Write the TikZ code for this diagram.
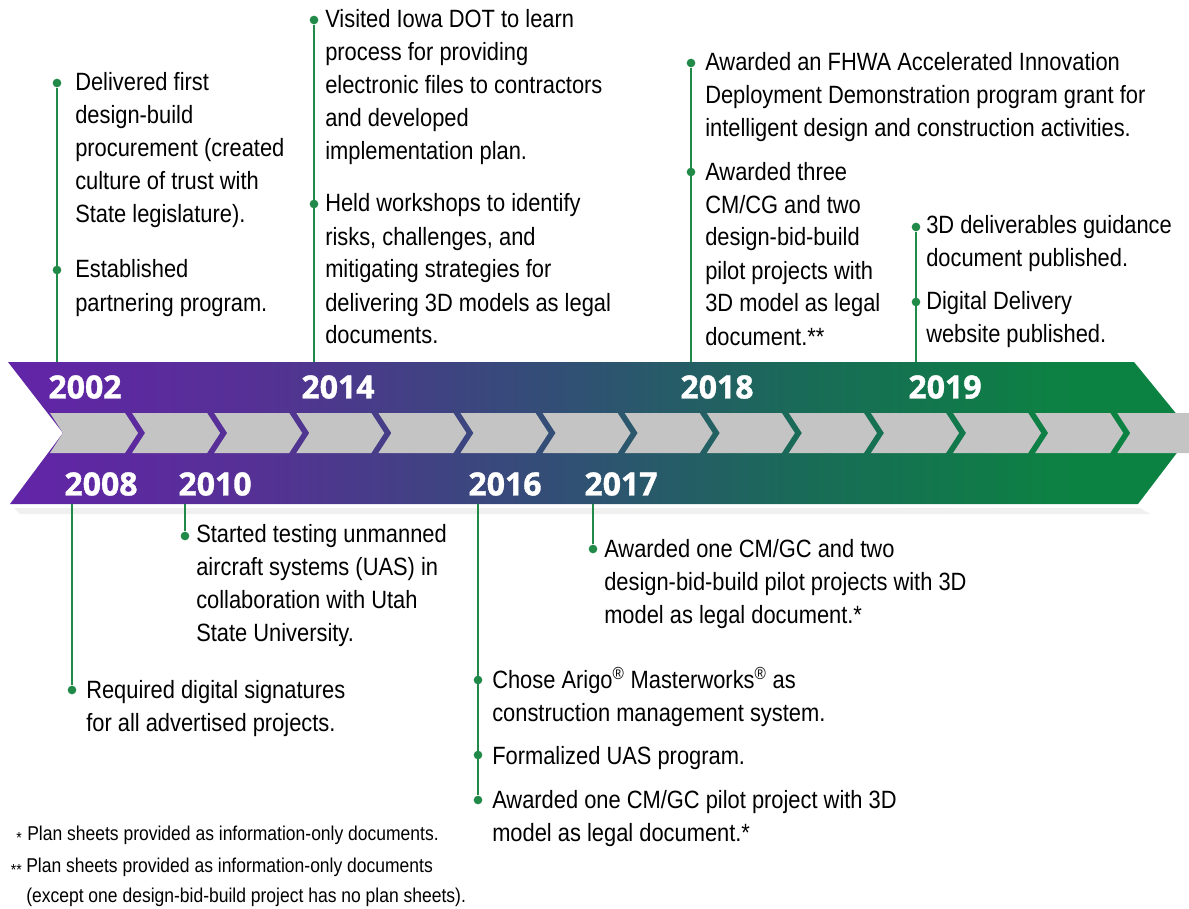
\documentclass[tikz,border=0pt]{standalone}
\usepackage{fontspec}
\setmainfont{Liberation Sans}[FakeStretch=0.875]
\newfontfamily\yearfont{Open Sans}[BoldFeatures={FakeBold=1.2}]

\definecolor{bandA}{RGB}{98,36,168}
\definecolor{bandB}{RGB}{86,48,150}
\definecolor{bandC}{RGB}{50,78,118}
\definecolor{bandD}{RGB}{24,108,86}
\definecolor{bandE}{RGB}{12,130,66}
\definecolor{stemgreen}{RGB}{34,138,72}
\definecolor{chevgray}{RGB}{196,196,196}

\pgfdeclarehorizontalshading{bandshade}{100bp}{color(0bp)=(bandA); color(25bp)=(bandA);
  color(35bp)=(bandB); color(48bp)=(bandC); color(59bp)=(bandD); color(70bp)=(bandE);
  color(100bp)=(bandE)}

\tikzset{
    stem/.style={stemgreen, line width=1.5pt},
    dot/.style={circle, fill=stemgreen, minimum size=6.5pt, inner sep=0pt},
    % base = baseline of the last line
    item/.style={anchor=base west, align=left, inner sep=0pt,
        font=\fontsize{18.75}{24.75}\selectfont},
    year/.style={text=white, inner sep=0pt, font=\yearfont\bfseries\fontsize{24}{24}\selectfont},
    note/.style={anchor=base west, align=left, inner sep=0pt,
        font=\fontsize{15}{22.5}\selectfont},
    star/.style={anchor=base east, inner sep=0pt, font=\fontsize{12}{12}\selectfont},
}

\begin{document}
\begin{tikzpicture}[x=0.75pt, y=-0.75pt]
    \useasboundingbox (0,0) rectangle (1189,909);

    % soft shadow, band and chevrons
    \fill[black!6] (14,508) -- (1140,508) -- (1150,514) -- (20,514) -- cycle;
    \shade[shading=bandshade] (8,362) -- (1134,362) -- (1192,433) -- (1138,504)
        -- (10,504) -- (63,433) -- cycle;
    \foreach \i in {0,...,13} {
        \fill[chevgray] ({50+82.1*\i},413) -- ++(75,0) -- ++(13,20) -- ++(-13,20)
            -- ++(-75,0) -- ++(13,-20) -- cycle;
    }

    % years
    \node[year] (y2002) at (85,387) {2002};
    \node[year] (y2014) at (338,387) {2014};
    \node[year] (y2018) at (717,387) {2018};
    \node[year] (y2019) at (945,387) {2019};
    \node[year] (y2008) at (101,484) {2008};
    \node[year] (y2010) at (215,484) {2010};
    \node[year] (y2016) at (505,484) {2016};
    \node[year] (y2017) at (621,484) {2017};

    % stems above the band
    \coordinate (b2002) at (57,362);
    \coordinate (b2014) at (314,362);
    \coordinate (b2018) at (691,362);
    \coordinate (b2019) at (916,362);
    \node[dot] (d2002a) at (57,83) {};
    \node[dot] (d2002b) at (57,270) {};
    \node[dot] (d2014a) at (314,20) {};
    \node[dot] (d2014b) at (314,204) {};
    \node[dot] (d2018a) at (691,63) {};
    \node[dot] (d2018b) at (691,172) {};
    \node[dot] (d2019a) at (916,227) {};
    \node[dot] (d2019b) at (916,302) {};
    \draw[stem] (b2002) -- (d2002a);
    \draw[stem] (b2014) -- (d2014a);
    \draw[stem] (b2018) -- (d2018a);
    \draw[stem] (b2019) -- (d2019a);

    % stems below the band
    \coordinate (b2008) at (72,504);
    \coordinate (b2010) at (185,504);
    \coordinate (b2016) at (478,504);
    \coordinate (b2017) at (593,504);
    \node[dot] (d2008) at (72,690) {};
    \node[dot] (d2010) at (185,536) {};
    \node[dot] (d2016a) at (478,680) {};
    \node[dot] (d2016b) at (478,755) {};
    \node[dot] (d2016c) at (478,800) {};
    \node[dot] (d2017) at (593,549) {};
    \draw[stem] (b2008) -- (d2008);
    \draw[stem] (b2010) -- (d2010);
    \draw[stem] (b2016) -- (d2016c);
    \draw[stem] (b2017) -- (d2017);

    % events
    \node[item] (t2002a) at (75,223) {Delivered first\\design-build\\procurement (created\\culture of trust with\\State legislature).};
    \node[item] (t2002b) at (75,311) {Established\\partnering program.};
    \node[item] (t2014a) at (325,160) {Visited Iowa DOT to learn\\process for providing\\electronic files to contractors\\and developed\\implementation plan.};
    \node[item] (t2014b) at (325,344) {Held workshops to identify\\risks, challenges, and\\mitigating strategies for\\delivering 3D models as legal\\documents.};
    \node[item] (t2018a) at (705,137) {Awarded an FHWA Accelerated Innovation\\Deployment Demonstration program grant for\\intelligent design and construction activities.};
    \node[item] (t2018b) at (705,345) {Awarded three\\CM/CG and two\\design-bid-build\\pilot projects with\\3D model as legal\\document.**};
    \node[item] (t2019a) at (926,267) {3D deliverables guidance\\document published.};
    \node[item] (t2019b) at (926,343) {Digital Delivery\\website published.};

    \node[item] (t2008) at (86,731) {Required digital signatures\\for all advertised projects.};
    \node[item] (t2010) at (196,641) {Started testing unmanned\\aircraft systems (UAS) in\\collaboration with Utah\\State University.};
    \node[item] (t2016a) at (492,721) {Chose Arigo\textsuperscript{®} Masterworks\textsuperscript{®} as\\construction management system.};
    \node[item] (t2016b) at (492,764) {Formalized UAS program.};
    \node[item] (t2016c) at (492,841) {Awarded one CM/GC pilot project with 3D\\model as legal document.*};
    \node[item] (t2017) at (604,623) {Awarded one CM/GC and two\\design-bid-build pilot projects with 3D\\model as legal document.*};

    % footnotes
    \node[star] (s1) at (22,843) {*};
    \node[note] (n1) at (27,840) {Plan sheets provided as information-only documents.};
    \node[star] (s2) at (22,875) {**};
    \node[note] (n2) at (26,902) {Plan sheets provided as information-only documents\\(except one design-bid-build project has no plan sheets).};
\end{tikzpicture}
\end{document}
